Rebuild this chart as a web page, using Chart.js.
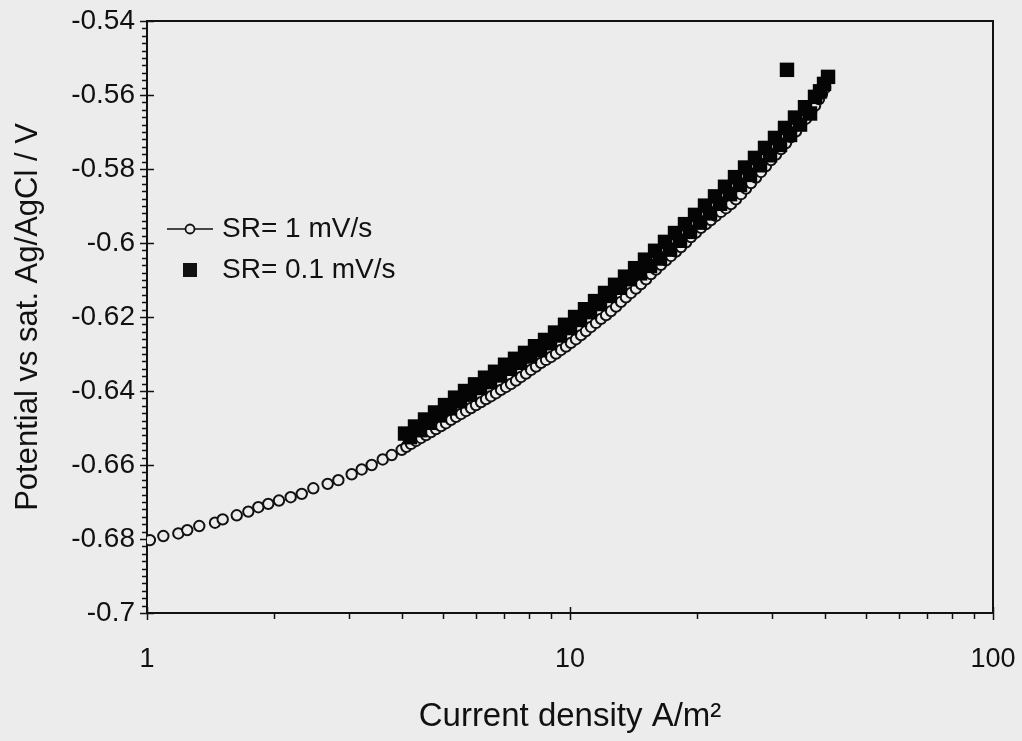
<!DOCTYPE html>
<html>
<head>
<meta charset="utf-8">
<script src="https://cdn.jsdelivr.net/npm/chart.js@4.4.1/dist/chart.umd.min.js"></script>
<style>
  body { margin: 0; background: #ececec; }
  #wrap { width: 1022px; height: 741px; position: relative; }
</style>
</head>
<body>
<div id="wrap"><canvas id="myChart"></canvas></div>
<script>
// --- Data ---
// SR = 1 mV/s (open circles)
const sr1X = [1.016, 1.093, 1.186, 1.245, 1.329, 1.448, 1.510, 1.630, 1.736, 1.833,
  1.935, 2.051, 2.186, 2.322, 2.473, 2.674, 2.834, 3.047, 3.218, 3.398,
  3.608, 3.789,
  4.001, 4.103, 4.208, 4.324, 4.444, 4.567, 4.692, 4.822, 4.955, 5.092,
  5.233, 5.378, 5.526, 5.679, 5.834, 5.995, 6.161, 6.331, 6.505, 6.685,
  6.869, 7.059, 7.254, 7.454, 7.660, 7.871, 8.088, 8.311, 8.541, 8.777,
  9.019, 9.268, 9.522, 9.785, 10.05, 10.33, 10.62, 10.91, 11.21, 11.52,
  11.84, 12.17, 12.50, 12.85, 13.20, 13.56, 13.94, 14.32, 14.72, 15.13,
  15.54, 15.97, 16.41, 16.86, 17.33, 17.81, 18.30, 18.81, 19.32, 19.85,
  20.40, 20.96, 21.54, 22.13, 22.75, 23.38, 24.02, 24.68, 25.37, 26.07,
  26.79, 27.53, 28.28, 29.06, 29.87, 30.69, 31.54, 32.41, 33.31, 34.23,
  35.17, 36.14, 37.14, 37.96, 38.79, 39.43, 40.08];
const sr1Y = [-0.6803, -0.6792, -0.6785, -0.6776, -0.6765, -0.6756, -0.6747, -0.6736, -0.6726, -0.6714,
  -0.6705, -0.6696, -0.6687, -0.6678, -0.6663, -0.6651, -0.6641, -0.6625, -0.6612, -0.6600,
  -0.6585, -0.6573,
  -0.6559, -0.6551, -0.6543, -0.6535, -0.6527, -0.6519, -0.6511, -0.6503, -0.6495, -0.6487,
  -0.6478, -0.6470, -0.6462, -0.6454, -0.6446, -0.6438, -0.6430, -0.6422, -0.6414, -0.6406,
  -0.6397, -0.6389, -0.6381, -0.6372, -0.6362, -0.6353, -0.6343, -0.6334, -0.6324, -0.6316,
  -0.6308, -0.6299, -0.6289, -0.6280, -0.6270, -0.6260, -0.6249, -0.6238, -0.6227, -0.6216,
  -0.6205, -0.6195, -0.6184, -0.6172, -0.6159, -0.6147, -0.6135, -0.6123, -0.6111, -0.6098,
  -0.6084, -0.6072, -0.6059, -0.6047, -0.6035, -0.6023, -0.6011, -0.5998, -0.5984, -0.5972,
  -0.5959, -0.5949, -0.5938, -0.5927, -0.5916, -0.5906, -0.5895, -0.5882, -0.5868, -0.5853,
  -0.5838, -0.5823, -0.5808, -0.5792, -0.5776, -0.5761, -0.5746, -0.5730, -0.5714, -0.5698,
  -0.5681, -0.5664, -0.5646, -0.5629, -0.5611, -0.5596, -0.5581];

// SR = 0.1 mV/s (filled squares)
const sr01X = [4.074, 4.185, 4.301, 4.420, 4.542, 4.667, 4.796, 4.928, 5.064, 5.204,
  5.348, 5.495, 5.647, 5.802, 5.963, 6.127, 6.296, 6.470, 6.649, 6.831,
  7.021, 7.214, 7.413, 7.617, 7.828, 8.044, 8.266, 8.494, 8.729, 8.969,
  9.217, 9.470, 9.732, 10.00, 10.28, 10.56, 10.85, 11.15, 11.46, 11.77,
  12.10, 12.43, 12.78, 13.13, 13.49, 13.86, 14.25, 14.64, 15.04, 15.46,
  15.89, 16.32, 16.77, 17.24, 17.71, 18.20, 18.70, 19.22, 19.75, 20.29,
  20.85, 21.43, 22.02, 22.63, 23.25, 23.89, 24.55, 25.23, 25.93, 26.64,
  27.37, 28.13, 28.91, 29.71, 30.52, 31.37, 32.23, 33.13, 34.03, 34.98,
  35.94, 36.94, 37.95, 39.00, 39.86, 40.74, 32.58];
const sr01Y = [-0.6515, -0.6525, -0.6496, -0.6506, -0.6477, -0.6486, -0.6458, -0.6466, -0.6438, -0.6447,
  -0.6418, -0.6428, -0.6400, -0.6410, -0.6382, -0.6392, -0.6364, -0.6376, -0.6348, -0.6358,
  -0.6329, -0.6340, -0.6313, -0.6324, -0.6297, -0.6307, -0.6279, -0.6290, -0.6262, -0.6271,
  -0.6242, -0.6250, -0.6221, -0.6230, -0.6200, -0.6208, -0.6179, -0.6187, -0.6157, -0.6165,
  -0.6135, -0.6143, -0.6113, -0.6121, -0.6091, -0.6098, -0.6068, -0.6082, -0.6045, -0.6062,
  -0.6021, -0.6042, -0.5997, -0.6018, -0.5973, -0.5994, -0.5949, -0.5970, -0.5924, -0.5945,
  -0.5899, -0.5920, -0.5874, -0.5894, -0.5848, -0.5868, -0.5822, -0.5843, -0.5796, -0.5816,
  -0.5770, -0.5790, -0.5743, -0.5763, -0.5716, -0.5735, -0.5689, -0.5708, -0.5661, -0.5680,
  -0.5633, -0.5650, -0.5605, -0.5590, -0.5570, -0.5551, -0.5532];

const xLabeled = [1, 10, 100];
const xMinor = [2, 3, 4, 5, 6, 7, 8, 9, 20, 30, 40, 50, 60, 70, 80, 90];
const yMin = -0.7, yMax = -0.54, yMajorStep = 0.02, yMinorStep = 0.002;

const FONT = '"Liberation Sans", Arial, Helvetica, sans-serif';
const INK = '#111';
const PAPER = '#ececec';

// --- Frame, ticks, legend ---
const framePlugin = {
  id: 'frame',
  beforeDatasetsDraw(chart) {
    const { ctx, chartArea: a, scales: { x, y } } = chart;
    ctx.save();
    ctx.strokeStyle = INK;
    ctx.lineWidth = 2;
    ctx.strokeRect(a.left, a.top, a.right - a.left, a.bottom - a.top);

    ctx.lineWidth = 1.5;
    ctx.beginPath();
    // y ticks
    const n = Math.round((yMax - yMin) / yMinorStep);
    for (let i = 0; i <= n; i++) {
      const py = Math.round(y.getPixelForValue(yMin + i * yMinorStep)) + 0.5;
      if (i % 10 === 0) { ctx.moveTo(a.left - 7, py); ctx.lineTo(a.left + 7, py); }
      else { ctx.moveTo(a.left - 5, py); ctx.lineTo(a.left, py); }
    }
    // x ticks
    xLabeled.forEach(v => {
      const px = Math.round(x.getPixelForValue(v)) + 0.5;
      ctx.moveTo(px, a.bottom - 6); ctx.lineTo(px, a.bottom + 7);
    });
    xMinor.forEach(v => {
      const px = Math.round(x.getPixelForValue(v)) + 0.5;
      ctx.moveTo(px, a.bottom); ctx.lineTo(px, a.bottom + 6);
    });
    ctx.stroke();
    ctx.restore();
  },
  afterDraw(chart) {
    const { ctx, chartArea: a } = chart;
    const ds = chart.data.datasets;
    const sx = a.left + 43, y1 = 229, y2 = 270;
    ctx.save();
    // circle entry
    ctx.strokeStyle = INK;
    ctx.lineWidth = 1.5;
    ctx.beginPath();
    ctx.moveTo(sx - 23, y1); ctx.lineTo(sx + 23, y1);
    ctx.stroke();
    ctx.beginPath();
    ctx.arc(sx, y1, 4.5, 0, Math.PI * 2);
    ctx.fillStyle = PAPER;
    ctx.fill();
    ctx.lineWidth = 1.8;
    ctx.stroke();
    // square entry
    ctx.fillStyle = INK;
    ctx.fillRect(sx - 7, y2 - 7, 14, 14);
    // text
    ctx.font = '28px ' + FONT;
    ctx.textBaseline = 'middle';
    ctx.fillStyle = INK;
    ctx.fillText(ds[0].label, sx + 32, y1);
    ctx.fillText(ds[1].label, sx + 32, y2);
    ctx.restore();
  }
};

const ctx = document.getElementById('myChart').getContext('2d');

const chart = new Chart(ctx, {
  type: 'scatter',
  data: {
    datasets: [
      {
        label: 'SR= 1 mV/s',
        data: sr1X.map((v, i) => ({ x: v, y: sr1Y[i] })),
        pointStyle: 'circle',
        pointRadius: 5.2,
        pointBorderWidth: 2,
        borderColor: INK,
        backgroundColor: PAPER,
        order: 2
      },
      {
        label: 'SR= 0.1 mV/s',
        data: sr01X.map((v, i) => ({ x: v, y: sr01Y[i] })),
        pointStyle: 'rect',
        pointRadius: 10.2,
        pointBorderWidth: 0,
        borderColor: '#050505',
        backgroundColor: '#050505',
        order: 1
      }
    ]
  },
  plugins: [framePlugin],
  options: {
    responsive: true,
    maintainAspectRatio: false,
    animation: false,
    layout: { padding: { top: 21, right: 29, left: 0, bottom: 0 } },
    plugins: {
      legend: { display: false },
      tooltip: { enabled: false }
    },
    scales: {
      x: {
        type: 'logarithmic',
        min: 1,
        max: 100,
        grid: { display: false, drawTicks: false, tickLength: 0 },
        border: { display: false },
        ticks: {
          autoSkip: false,
          maxRotation: 0,
          padding: 30,
          color: INK,
          font: { family: FONT, size: 27 },
          callback: v => xLabeled.includes(v) ? String(v) : ''
        },
        title: {
          display: true,
          text: 'Current density A/m²',
          color: INK,
          font: { family: FONT, size: 33 },
          padding: { top: 0, bottom: 4 }
        },
        afterFit: s => { s.height = 128; s.paddingLeft = 0; s.paddingRight = 0; }
      },
      y: {
        min: yMin,
        max: yMax,
        grid: { display: false, drawTicks: false, tickLength: 0 },
        border: { display: false },
        ticks: {
          stepSize: yMajorStep,
          padding: 12,
          color: INK,
          font: { family: FONT, size: 28 },
          callback: v => String(Math.round(v * 100) / 100)
        },
        title: {
          display: true,
          text: 'Potential vs sat. Ag/AgCl / V',
          color: INK,
          font: { family: FONT, size: 31 },
          padding: { top: 10, bottom: 0 }
        },
        afterFit: s => { s.width = 147; s.paddingTop = 0; s.paddingBottom = 0; }
      }
    }
  }
});
</script>
</body>
</html>
